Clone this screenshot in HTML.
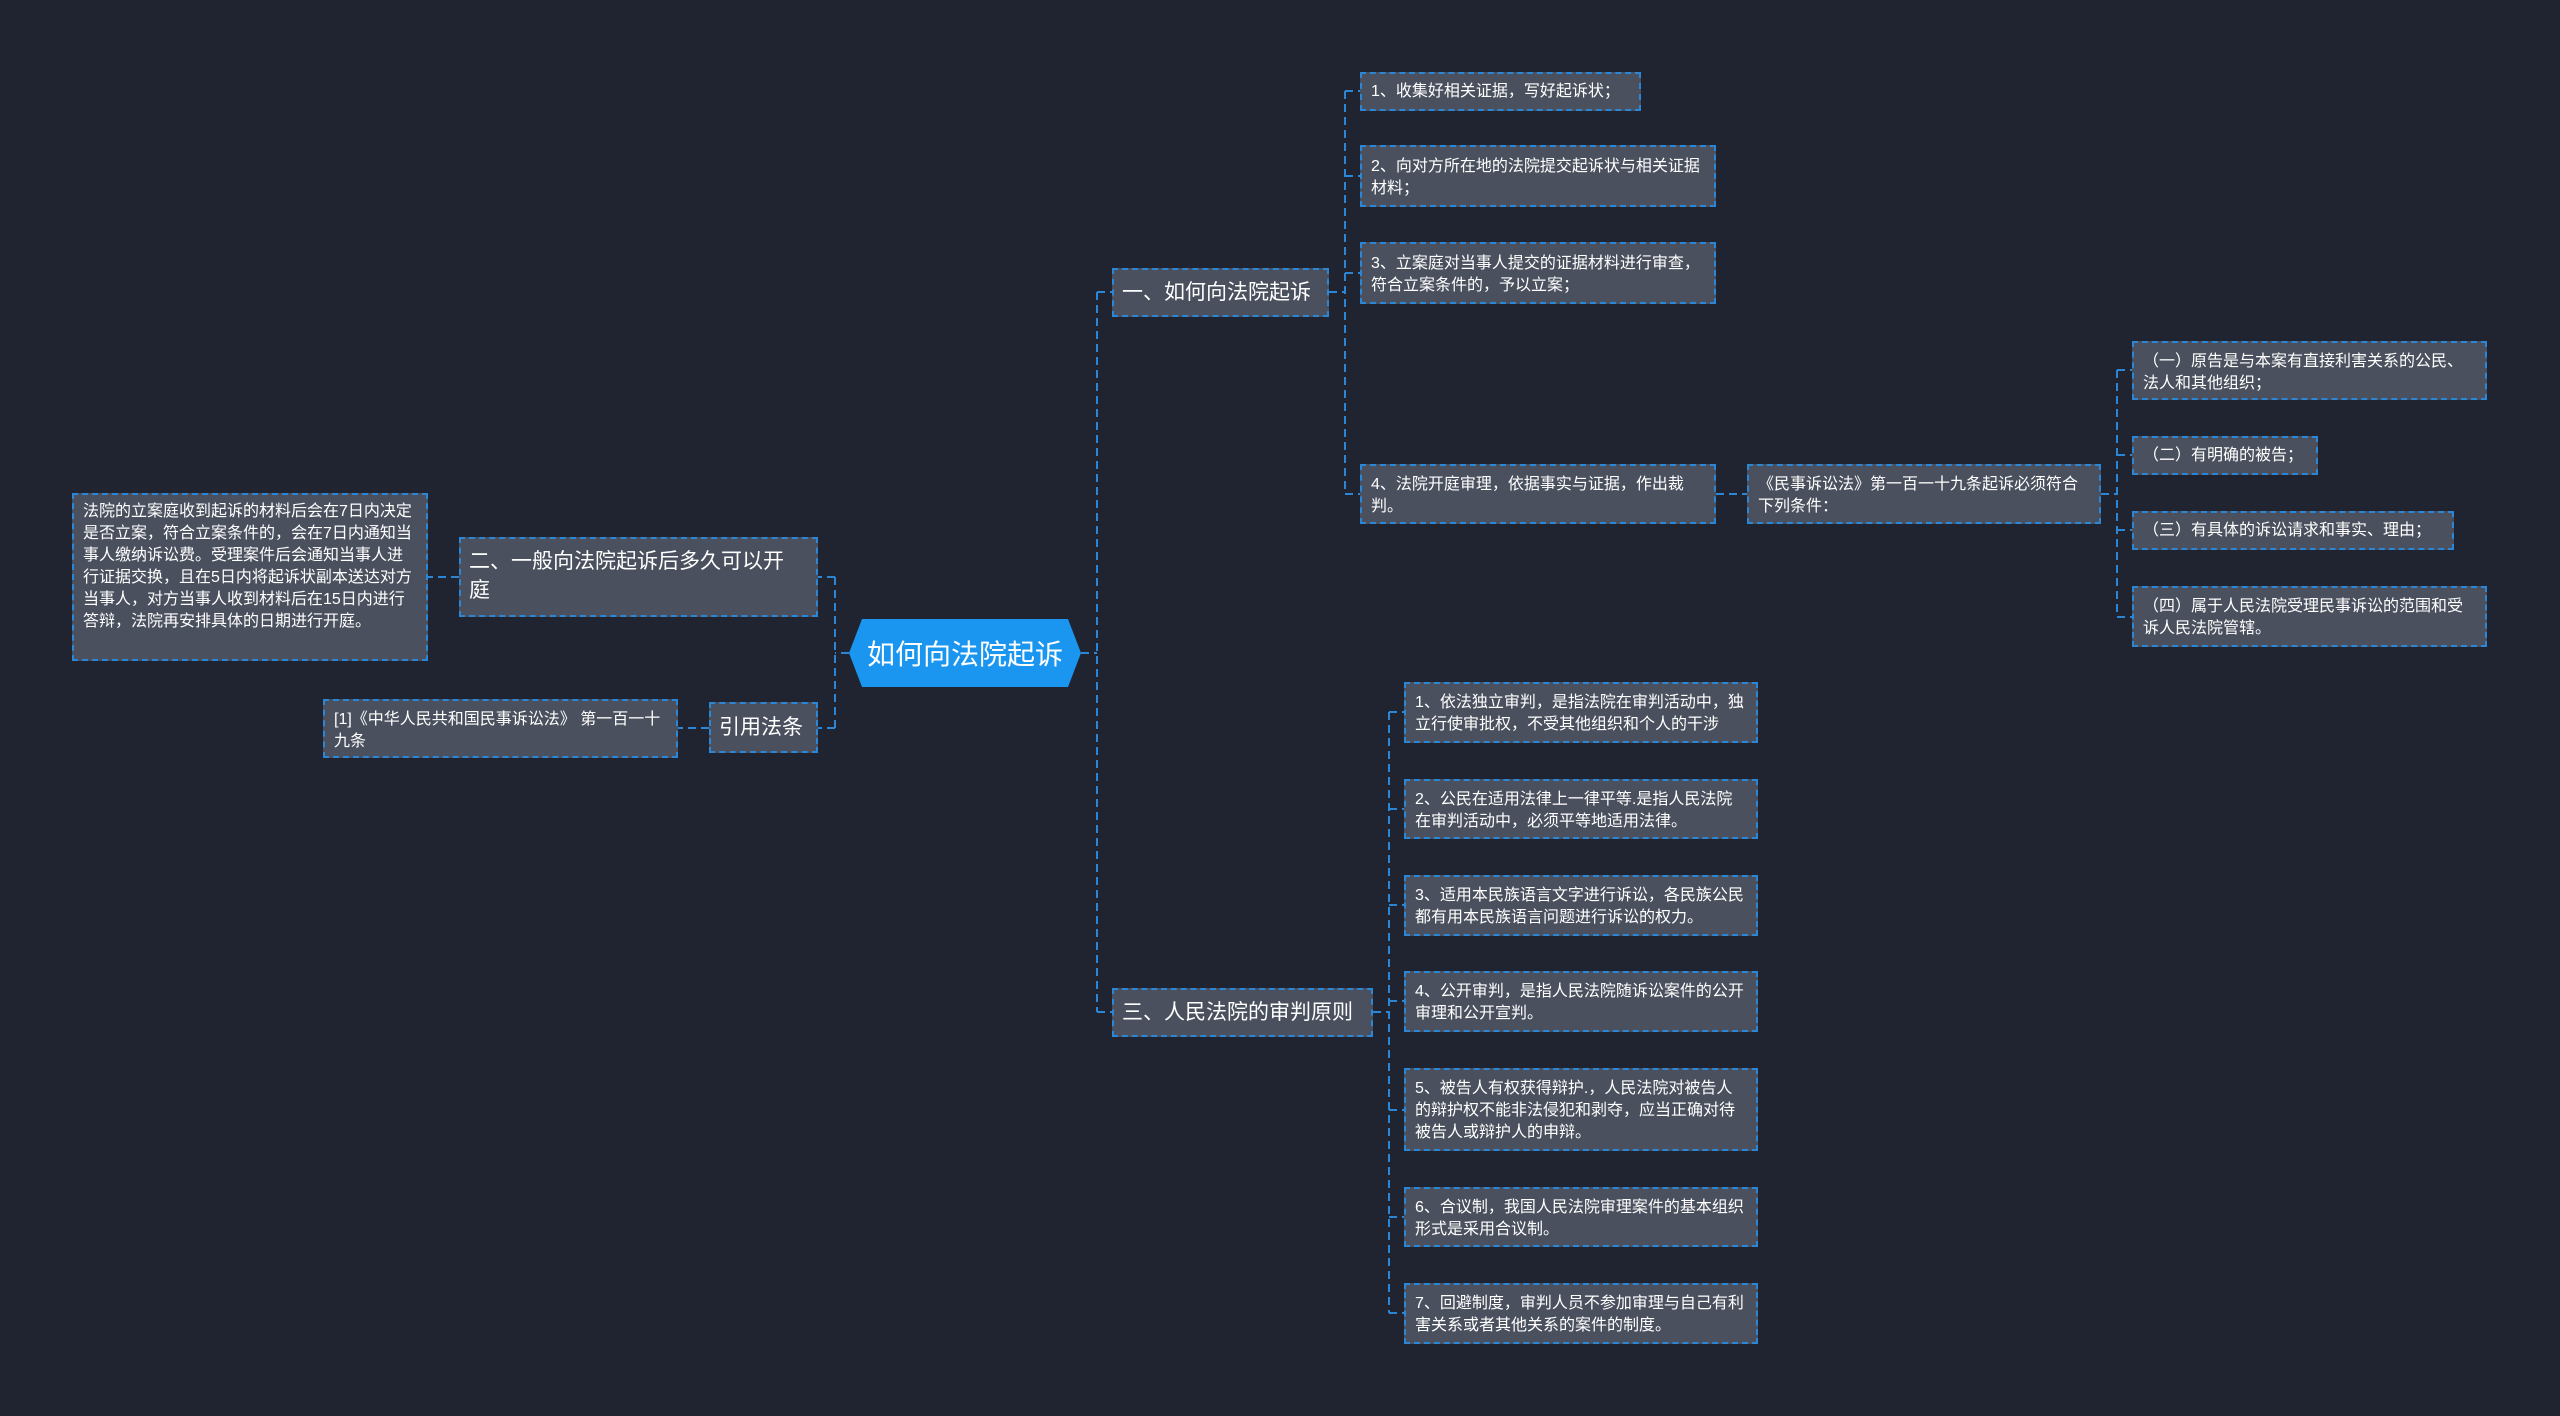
<!DOCTYPE html>
<html><head><meta charset="utf-8"><style>
html,body{margin:0;padding:0;}
body{width:2560px;height:1416px;background:#1f2430;position:relative;overflow:hidden;font-family:"Liberation Sans","Noto Sans CJK SC",sans-serif;}
.n{position:absolute;box-sizing:border-box;background:#4a505d;border:2px dashed #2b86d6;color:#fff;font-size:16px;line-height:22px;padding:6px 10px 6px 9px;}
.b{font-size:21px;line-height:29px;padding:8px 8px;}
.c{display:flex;align-items:center;white-space:nowrap;}
svg{position:absolute;left:0;top:0;}
</style></head><body>
<svg width="2560" height="1416" fill="none" stroke="#2b86d6" stroke-width="2" stroke-dasharray="8,5">
<path d="M1081 653H1097M1097 292V1012M1097 292H1112M1097 1012H1112"/>
<path d="M849 653H835M835 577V728M835 577H818M835 728H818"/>
<path d="M459 577H428M709 728H678"/>
<path d="M1329 292H1345M1345 91V494M1345 91H1360M1345 176H1360M1345 273H1360M1345 494H1360"/>
<path d="M1716 494H1747"/>
<path d="M2101 494H2117M2117 370V617M2117 370H2132M2117 455H2132M2117 530H2132M2117 617H2132"/>
<path d="M1373 1012H1389M1389 712V1313M1389 712H1404M1389 809H1404M1389 905H1404M1389 1001H1404M1389 1110H1404M1389 1217H1404M1389 1313H1404"/>
</svg>
<svg width="2560" height="1416"><polygon points="862,619 1068,619 1081,653 1068,687 862,687 849,653" fill="#1a96f0"/></svg>
<div style="position:absolute;left:849px;top:619px;width:232px;height:68px;display:flex;align-items:center;justify-content:center;color:#fff;font-size:28px;">如何向法院起诉</div>

<div class="n b c" style="left:1112px;top:268px;width:217px;height:49px;">一、如何向法院起诉</div>
<div class="n c" style="left:1360px;top:72px;width:281px;height:39px;">1、收集好相关证据，写好起诉状；</div>
<div class="n" style="left:1360px;top:145px;width:356px;height:62px;padding-top:9px;">2、向对方所在地的法院提交起诉状与相关证据材料；</div>
<div class="n" style="left:1360px;top:242px;width:356px;height:62px;padding-top:9px;">3、立案庭对当事人提交的证据材料进行审查，符合立案条件的，予以立案；</div>
<div class="n" style="left:1360px;top:464px;width:356px;height:60px;padding-top:8px;">4、法院开庭审理，依据事实与证据，作出裁判。</div>
<div class="n" style="left:1747px;top:464px;width:354px;height:60px;padding-top:8px;">《民事诉讼法》第一百一十九条起诉必须符合下列条件：</div>
<div class="n" style="left:2132px;top:341px;width:355px;height:59px;padding-top:8px;">（一）原告是与本案有直接利害关系的公民、法人和其他组织；</div>
<div class="n c" style="left:2132px;top:436px;width:186px;height:39px;">（二）有明确的被告；</div>
<div class="n c" style="left:2132px;top:511px;width:322px;height:39px;">（三）有具体的诉讼请求和事实、理由；</div>
<div class="n" style="left:2132px;top:586px;width:355px;height:61px;padding-top:8px;">（四）属于人民法院受理民事诉讼的范围和受诉人民法院管辖。</div>

<div class="n b" style="left:459px;top:537px;width:359px;height:80px;padding-right:24px;">二、一般向法院起诉后多久可以开庭</div>
<div class="n" style="left:72px;top:493px;width:356px;height:168px;">法院的立案庭收到起诉的材料后会在7日内决定是否立案，符合立案条件的，会在7日内通知当事人缴纳诉讼费。受理案件后会通知当事人进行证据交换，且在5日内将起诉状副本送达对方当事人，对方当事人收到材料后在15日内进行答辩，法院再安排具体的日期进行开庭。</div>
<div class="n b c" style="left:709px;top:702px;width:109px;height:51px;">引用法条</div>
<div class="n" style="left:323px;top:699px;width:355px;height:59px;padding-top:8px;">[1]《中华人民共和国民事诉讼法》 第一百一十九条</div>

<div class="n b c" style="left:1112px;top:988px;width:261px;height:49px;">三、人民法院的审判原则</div>
<div class="n" style="left:1404px;top:682px;width:354px;height:61px;padding-top:8px;">1、依法独立审判，是指法院在审判活动中，独立行使审批权，不受其他组织和个人的干涉</div>
<div class="n" style="left:1404px;top:779px;width:354px;height:60px;padding-top:8px;">2、公民在适用法律上一律平等.是指人民法院在审判活动中，必须平等地适用法律。</div>
<div class="n" style="left:1404px;top:875px;width:354px;height:61px;padding-top:8px;">3、适用本民族语言文字进行诉讼，各民族公民都有用本民族语言问题进行诉讼的权力。</div>
<div class="n" style="left:1404px;top:971px;width:354px;height:61px;padding-top:8px;">4、公开审判，是指人民法院随诉讼案件的公开审理和公开宣判。</div>
<div class="n" style="left:1404px;top:1068px;width:354px;height:83px;padding-top:8px;">5、被告人有权获得辩护.，人民法院对被告人的辩护权不能非法侵犯和剥夺，应当正确对待被告人或辩护人的申辩。</div>
<div class="n" style="left:1404px;top:1187px;width:354px;height:60px;padding-top:8px;">6、合议制，我国人民法院审理案件的基本组织形式是采用合议制。</div>
<div class="n" style="left:1404px;top:1283px;width:354px;height:61px;padding-top:8px;">7、回避制度，审判人员不参加审理与自己有利害关系或者其他关系的案件的制度。</div>
</body></html>
